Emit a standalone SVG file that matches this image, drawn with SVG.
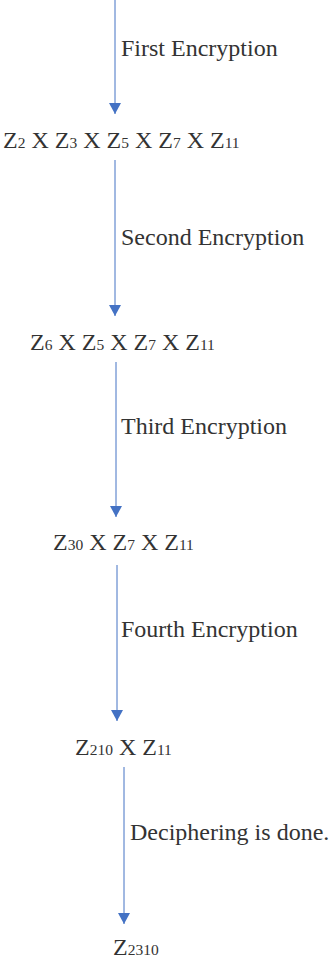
<svg xmlns="http://www.w3.org/2000/svg" width="335" height="966" viewBox="0 0 335 966">
<style>
text{font-family:"Liberation Serif","Times New Roman",serif;fill:#333333;}
.n{font-size:24px;}
.s{font-size:15.5px;}
.lbl{font-size:24px;}
.c{stroke:#4472C4;stroke-width:1;fill:none;}
</style>
<defs>
<marker id="ah" markerUnits="userSpaceOnUse" markerWidth="13" markerHeight="12" refX="11" refY="6" orient="auto">
<path d="M0,0 L11,6 L0,12 Z" fill="#4472C4"/>
</marker>
</defs>
<rect width="335" height="966" fill="#ffffff"/>
<g id="connectors">
<line class="c" x1="115" y1="0" x2="115" y2="114" marker-end="url(#ah)"/>
<line class="c" x1="115" y1="160" x2="115" y2="316" marker-end="url(#ah)"/>
<line class="c" x1="116" y1="362" x2="116" y2="517" marker-end="url(#ah)"/>
<line class="c" x1="117" y1="565" x2="117" y2="721" marker-end="url(#ah)"/>
<line class="c" x1="124" y1="767" x2="124" y2="924" marker-end="url(#ah)"/>
</g>
<g id="labels">
<text class="lbl" x="121" y="56">First Encryption</text>
<text class="lbl" x="121" y="245">Second Encryption</text>
<text class="lbl" x="121" y="434">Third Encryption</text>
<text class="lbl" x="121" y="637">Fourth Encryption</text>
<text class="lbl" x="130" y="840">Deciphering is done.</text>
</g>
<g id="node1">
<text class="n" x="3" y="148">Z<tspan class="s">2</tspan> X Z<tspan class="s">3</tspan> X Z<tspan class="s">5</tspan> X Z<tspan class="s">7</tspan> X Z<tspan class="s">11</tspan></text>
</g>
<g id="node2">
<text class="n" x="30" y="350">Z<tspan class="s">6</tspan> X Z<tspan class="s">5</tspan> X Z<tspan class="s">7</tspan> X Z<tspan class="s">11</tspan></text>
</g>
<g id="node3">
<text class="n" x="53" y="550">Z<tspan class="s">30</tspan> X Z<tspan class="s">7</tspan> X Z<tspan class="s">11</tspan></text>
</g>
<g id="node4">
<text class="n" x="75" y="755">Z<tspan class="s">210</tspan> X Z<tspan class="s">11</tspan></text>
</g>
<g id="node5">
<text class="n" x="113" y="955">Z<tspan class="s">2310</tspan></text>
</g>
</svg>
